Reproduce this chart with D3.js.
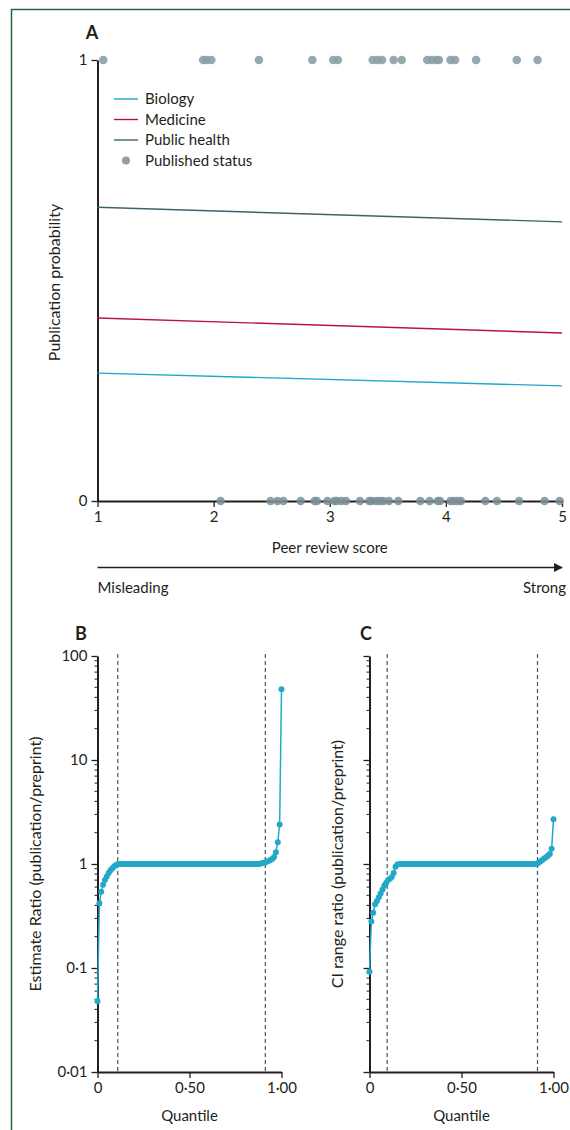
<!DOCTYPE html>
<html><head><meta charset="utf-8">
<script src="https://cdn.jsdelivr.net/npm/d3@7"></script>
<style>
html,body{margin:0;padding:0;background:#fff;}
svg{display:block;font-family:Lato, "Open Sans", sans-serif;}
text{fill:#231f20;}
</style></head>
<body>
<svg id="chart" width="570" height="1130"></svg>
<script>
// ---------- Data ----------
const seriesNames = ["Biology", "Medicine", "Public health"];
const seriesColors = ["#1ea6cb", "#b8143f", "#40606c"];
const lineScores = [1, 5];
const biologyProb = [0.290, 0.261];
const medicineProb = [0.415, 0.381];
const publicHealthProb = [0.666, 0.633];
const publishedScores = [1.05, 1.91, 1.94, 1.98, 2.39, 2.85, 3.03, 3.07, 3.37, 3.41, 3.45, 3.55, 3.62, 3.84, 3.88, 3.92, 3.94, 4.04, 4.08, 4.26, 4.61, 4.79];
const unpublishedScores = [2.06, 2.49, 2.55, 2.60, 2.75, 2.87, 2.89, 2.98, 3.04, 3.06, 3.10, 3.14, 3.26, 3.34, 3.36, 3.40, 3.43, 3.46, 3.51, 3.59, 3.78, 3.86, 3.93, 3.95, 4.04, 4.07, 4.10, 4.13, 4.34, 4.44, 4.63, 4.85, 4.98];
const xTicksA = [1, 2, 3, 4, 5];
const yTicksA = [0, 1];

const logTicks = [0.01, 0.1, 1, 10, 100];
const logTickLabels = ["0·01", "0·1", "1", "10", "100"];
const quantileTicks = [0, 0.5, 1];
const quantileTickLabels = ["0", "0·50", "1·00"];

// Estimate ratio (publication/preprint), sorted, one value per percentile 0..100
const estimateRatio = [0.048, 0.42, 0.54, 0.63, 0.70, 0.76, 0.82, 0.87, 0.91, 0.95, 0.98,
  1, 1, 1, 1, 1, 1, 1, 1, 1, 1, 1, 1, 1, 1, 1, 1, 1, 1, 1, 1, 1, 1, 1, 1, 1, 1, 1, 1, 1,
  1, 1, 1, 1, 1, 1, 1, 1, 1, 1, 1, 1, 1, 1, 1, 1, 1, 1, 1, 1, 1, 1, 1, 1, 1, 1, 1, 1, 1,
  1, 1, 1, 1, 1, 1, 1, 1, 1, 1, 1, 1, 1, 1, 1, 1, 1, 1, 1, 1.01, 1.02, 1.03, 1.05, 1.07,
  1.09, 1.12, 1.17, 1.30, 1.62, 2.4, 48];
const estimateCutoffs = [0.11, 0.912];

// CI range ratio (publication/preprint)
const ciRangeRatio = [0.092, 0.28, 0.34, 0.41, 0.44, 0.48, 0.52, 0.57, 0.62, 0.66, 0.70,
  0.72, 0.75, 0.82, 0.94, 0.99, 1, 1, 1, 1, 1, 1, 1, 1, 1, 1, 1, 1, 1, 1, 1, 1, 1, 1, 1,
  1, 1, 1, 1, 1, 1, 1, 1, 1, 1, 1, 1, 1, 1, 1, 1, 1, 1, 1, 1, 1, 1, 1, 1, 1, 1, 1, 1, 1,
  1, 1, 1, 1, 1, 1, 1, 1, 1, 1, 1, 1, 1, 1, 1, 1, 1, 1, 1, 1, 1, 1, 1, 1, 1, 1, 1, 1.03,
  1.06, 1.09, 1.13, 1.16, 1.20, 1.25, 1.40, 2.7];
const ciCutoffs = [0.096, 0.913];

// ---------- Drawing ----------
const svg = d3.select("#chart");
const ink = "#231f20";
const dotGrey = "#8c9ea6";
const curveBlue = "#22a9ca";
const dashColor = "#3e5a68";
const fs = "15px";
const fsY = "16px";

// page frame
svg.append("path").attr("d", "M11.5,1130 V9.5 H570")
  .attr("fill", "none").attr("stroke", "#1f6b3c").attr("stroke-width", 1.5);

function styleAxis(g) {
  g.select(".domain").attr("stroke", ink).attr("stroke-width", 2);
  g.selectAll(".tick line").attr("stroke", ink).attr("stroke-width", 1.3);
  g.selectAll(".tick text").attr("fill", "#333").style("font-size", fs)
    .style("font-family", "Lato, 'Open Sans', sans-serif");
}

// ===== Panel A =====
const xA = d3.scaleLinear().domain([1, 5]).range([97.5, 562]);
const yA = d3.scaleLinear().domain([0, 1]).range([501, 60]);

svg.append("text").attr("x", 92).attr("y", 39).attr("text-anchor", "middle")
  .style("font-size", "18px").style("font-weight", "bold").text("A");

const gxA = svg.append("g").attr("transform", `translate(0,${yA(0)})`)
  .call(d3.axisBottom(xA).tickValues(xTicksA).tickSize(6).tickSizeOuter(0).tickPadding(4).tickFormat(d3.format("d")));
styleAxis(gxA);
const gyA = svg.append("g").attr("transform", `translate(${xA(1)},0)`)
  .call(d3.axisLeft(yA).tickValues(yTicksA).tickSize(6).tickSizeOuter(0).tickPadding(4).tickFormat(d3.format("d")));
styleAxis(gyA);

svg.append("text").attr("transform", `translate(60,${(yA(0) + yA(1)) / 2 + 2}) rotate(-90)`)
  .attr("text-anchor", "middle").style("font-size", fsY).text("Publication probability");
svg.append("text").attr("x", (xA(1) + xA(5)) / 2).attr("y", 553).attr("text-anchor", "middle")
  .style("font-size", fs).text("Peer review score");

// arrow
svg.append("defs").append("marker").attr("id", "arr").attr("viewBox", "0 0 10 10")
  .attr("refX", 9).attr("refY", 5).attr("markerWidth", 9).attr("markerHeight", 9)
  .attr("markerUnits", "userSpaceOnUse").attr("orient", "auto")
  .append("path").attr("d", "M0,0 L10,5 L0,10 Z").attr("fill", ink);
svg.append("line").attr("x1", xA(1)).attr("x2", xA(5)).attr("y1", 567.5).attr("y2", 567.5)
  .attr("stroke", ink).attr("stroke-width", 1.3).attr("marker-end", "url(#arr)");
svg.append("text").attr("x", xA(1)).attr("y", 593).style("font-size", fs).text("Misleading");
svg.append("text").attr("x", 566).attr("y", 593).attr("text-anchor", "end").style("font-size", fs).text("Strong");

// regression lines
const lineA = d3.line().x(d => xA(d[0])).y(d => yA(d[1]));
[biologyProb, medicineProb, publicHealthProb].forEach((vals, i) => {
  svg.append("path").datum(lineScores.map((s, j) => [s, vals[j]]))
    .attr("d", lineA).attr("fill", "none").attr("stroke", seriesColors[i]).attr("stroke-width", 1.4);
});

// published status dots
svg.append("g").selectAll("circle").data(publishedScores).join("circle")
  .attr("cx", d => xA(d)).attr("cy", yA(1)).attr("r", 4.3)
  .attr("fill", dotGrey).attr("fill-opacity", 0.9);
svg.append("g").selectAll("circle").data(unpublishedScores).join("circle")
  .attr("cx", d => xA(d)).attr("cy", yA(0)).attr("r", 4.3)
  .attr("fill", "#7a8f98").attr("fill-opacity", 0.85);

// legend
const legend = svg.append("g");
seriesNames.forEach((n, i) => {
  const y = 99 + i * 20.5;
  legend.append("line").attr("x1", 114).attr("x2", 138).attr("y1", y).attr("y2", y)
    .attr("stroke", seriesColors[i]).attr("stroke-width", 1.4);
  legend.append("text").attr("x", 145).attr("y", y + 5).style("font-size", fs).text(n);
});
legend.append("circle").attr("cx", 126).attr("cy", 160.5).attr("r", 4).attr("fill", dotGrey);
legend.append("text").attr("x", 145).attr("y", 165.5).style("font-size", fs).text("Published status");

// ===== Panels B & C =====
function quantilePanel(opts) {
  const x = d3.scaleLinear().domain([0, 1]).range([opts.x0, opts.x0 + 184]);
  const y = d3.scaleLog().domain([0.01, 100]).range([1072, 656]);

  svg.append("text").attr("x", opts.labelX).attr("y", 640).attr("text-anchor", "middle")
    .style("font-size", "18px").style("font-weight", "bold").text(opts.letter);

  // dashed cutoffs
  svg.append("g").selectAll("line").data(opts.cutoffs).join("line")
    .attr("x1", d => x(d)).attr("x2", d => x(d)).attr("y1", 654).attr("y2", 1072)
    .attr("stroke", dashColor).attr("stroke-width", 1.2).attr("stroke-dasharray", "4,3");

  // minor ticks
  const minor = y.ticks().filter(t => !logTicks.some(m => Math.abs(m - t) < 1e-9));
  svg.append("g").selectAll("line").data(minor).join("line")
    .attr("x1", opts.x0 - 3).attr("x2", opts.x0).attr("y1", d => y(d)).attr("y2", d => y(d))
    .attr("stroke", ink).attr("stroke-width", 1);

  const gy = svg.append("g").attr("transform", `translate(${opts.x0},0)`)
    .call(d3.axisLeft(y).tickValues(logTicks).tickSize(6).tickSizeOuter(0).tickPadding(4)
      .tickFormat((d, i) => opts.showYLabels ? logTickLabels[i] : ""));
  styleAxis(gy);
  const gx = svg.append("g").attr("transform", `translate(0,1072)`)
    .call(d3.axisBottom(x).tickValues(quantileTicks).tickSize(6).tickSizeOuter(0).tickPadding(4)
      .tickFormat((d, i) => quantileTickLabels[i]));
  styleAxis(gx);

  svg.append("text").attr("transform", `translate(${opts.yLabelX},864) rotate(-90)`)
    .attr("text-anchor", "middle").style("font-size", fsY).text(opts.yLabel);
  svg.append("text").attr("x", x(0.5)).attr("y", 1121).attr("text-anchor", "middle")
    .style("font-size", fs).text("Quantile");

  const n = opts.values.length;
  const pts = opts.values.map((v, i) => [i / (n - 1), v]);
  svg.append("path").datum(pts)
    .attr("d", d3.line().x(d => x(d[0])).y(d => y(d[1])))
    .attr("fill", "none").attr("stroke", curveBlue).attr("stroke-width", 1.5);
  svg.append("g").selectAll("circle").data(pts).join("circle")
    .attr("cx", d => x(d[0])).attr("cy", d => y(d[1])).attr("r", 3)
    .attr("fill", curveBlue);
}

quantilePanel({ letter: "B", labelX: 81, x0: 97.5, values: estimateRatio, cutoffs: estimateCutoffs,
  showYLabels: true, yLabel: "Estimate Ratio (publication/preprint)", yLabelX: 41 });
quantilePanel({ letter: "C", labelX: 366, x0: 369.5, values: ciRangeRatio, cutoffs: ciCutoffs,
  showYLabels: false, yLabel: "CI range ratio (publication/preprint)", yLabelX: 343 });
</script>
</body></html>
